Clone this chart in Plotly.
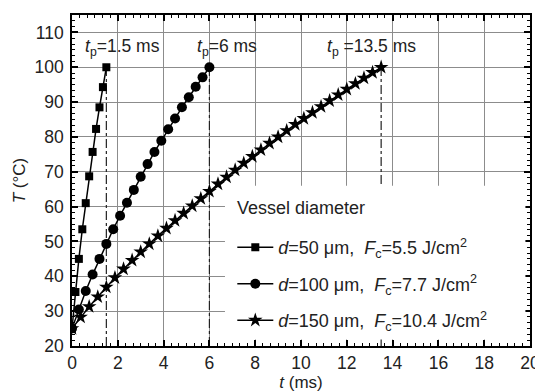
import plotly.graph_objects as go

# ---- data ----
t_50 = [0, 0.15, 0.3, 0.45, 0.6, 0.75, 0.9, 1.05, 1.2, 1.35, 1.5]
T_50 = [25, 35.5, 45, 53.5, 61, 68.7, 75.7, 82.3, 88.5, 94.3, 100]

t_100 = [0, 0.3, 0.6, 0.9, 1.2, 1.5, 1.8, 2.1, 2.4, 2.7, 3.0, 3.3, 3.6, 3.9,
         4.2, 4.5, 4.8, 5.1, 5.4, 5.7, 6.0]
T_100 = [25, 30.5, 35.8, 40.5, 45, 49.3, 53.5, 57.4, 61.1, 64.8, 68.6, 72.2,
         75.7, 78.9, 82.2, 85.3, 88.5, 91.4, 94.4, 97.1, 100]

t_150 = [0, 0.375, 0.75, 1.125, 1.5, 1.875, 2.25, 2.625, 3.0, 3.375, 3.75,
         4.125, 4.5, 4.875, 5.25, 5.625, 6.0, 6.375, 6.75, 7.125, 7.5, 7.875,
         8.25, 8.625, 9.0, 9.375, 9.75, 10.125, 10.5, 10.875, 11.25, 11.625,
         12.0, 12.375, 12.75, 13.125, 13.5]
T_150 = [25, 28.3, 31.3, 34.1, 36.9, 39.6, 42.1, 44.6, 47.0, 49.3, 51.6, 53.8,
         56.0, 58.1, 60.2, 62.3, 64.4, 66.5, 68.5, 70.5, 72.5, 74.4, 76.3,
         78.2, 80.0, 81.8, 83.6, 85.3, 87.0, 88.7, 90.4, 92.1, 93.7, 95.3,
         96.9, 98.5, 100]

tp_values = [1.5, 6, 13.5]
tp_labels = ["<i>t</i><sub>p</sub>=1.5 ms", "<i>t</i><sub>p</sub>=6 ms",
             "<i>t</i><sub>p</sub> =13.5 ms"]
T_base = 20
T_top = 100

legend_title = "Vessel diameter"
series_names = [
    "<i>d</i>=50 \u03bcm,  <i>F</i><sub>c</sub>=5.5 J/cm<sup>2</sup>",
    "<i>d</i>=100 \u03bcm,  <i>F</i><sub>c</sub>=7.7 J/cm<sup>2</sup>",
    "<i>d</i>=150 \u03bcm,  <i>F</i><sub>c</sub>=10.4 J/cm<sup>2</sup>",
]

FONT = "Liberation Sans, Arial, sans-serif"
TXT = "#222"
FS = 17.5

fig = go.Figure()

# dash-dot markers of pulse duration
for tp in tp_values:
    fig.add_trace(go.Scatter(
        x=[tp, tp], y=[T_base, T_top], mode="lines",
        line=dict(color=TXT, width=1.2, dash="dashdot"),
        showlegend=False, hoverinfo="skip"))

series = [
    (t_50, T_50, "square", 8),
    (t_100, T_100, "circle", 10),
    (t_150, T_150, "star", 11),
]
for i, ((xs, ys, sym, sz), name) in enumerate(zip(series, series_names)):
    fig.add_trace(go.Scatter(
        x=xs, y=ys, mode="lines+markers", name=name,
        legendgroup=f"g{i}",
        line=dict(color="black", width=1.5),
        marker=dict(symbol=sym, size=sz, color="black",
                    line=dict(width=0))))

label_x = [0.48, 5.37, 11.05]
for lx, lab in zip(label_x, tp_labels):
    fig.add_annotation(x=lx, y=105.6, text=lab, showarrow=False,
                       xanchor="left", yanchor="middle",
                       font=dict(family=FONT, size=FS, color=TXT))

# white panel behind the legend (hides grid and dash-dot line there)
fig.add_shape(type="rect", xref="x", yref="y", x0=6.68, x1=19.8, y0=21.9, y1=66,
              fillcolor="white", line=dict(width=0), layer="above")

fig.add_annotation(x=7.1, y=59.6, xref="x", yref="y", text=legend_title,
                   showarrow=False, xanchor="left", yanchor="middle",
                   font=dict(family=FONT, size=18, color=TXT))

axis_common = dict(
    showline=True, linecolor="black", linewidth=1.5, mirror="allticks",
    ticks="inside", ticklen=6, tickwidth=1.5, tickcolor="black",
    showgrid=True, gridcolor="#8c8c8c", gridwidth=1.3, zeroline=False,
    tickfont=dict(family=FONT, size=FS, color=TXT),
    automargin=False,
)

fig.update_xaxes(
    range=[0, 20], dtick=2, tick0=0,
    title=dict(text="<i>t</i> (ms)", font=dict(family=FONT, size=17, color=TXT),
               standoff=4),
    minor=dict(dtick=1/3, ticks="inside", ticklen=3, tickwidth=1.2,
               tickcolor="black", showgrid=False),
    **axis_common)
fig.update_yaxes(
    range=[20, 115], dtick=10, tick0=20,
    ticklabelstandoff=3,
    title=dict(text="<i>T</i> (\u00b0C)", font=dict(family=FONT, size=17, color=TXT),
               standoff=5),
    minor=dict(dtick=10/6, ticks="inside", ticklen=3, tickwidth=1.2,
               tickcolor="black", showgrid=False),
    **axis_common)

# page body has an 8px margin, so the figure is made 8px smaller on each axis
fig.update_layout(
    width=535, height=384,
    margin=dict(l=64, r=13, t=7, b=46),
    plot_bgcolor="white", paper_bgcolor="white",
    font=dict(family=FONT, size=FS, color=TXT),
    legend=dict(
        x=0.35, y=0.353, xanchor="left", yanchor="top",
        bgcolor="rgba(0,0,0,0)", borderwidth=0,
        font=dict(family=FONT, size=18, color=TXT),
        tracegroupgap=10, itemwidth=36,
    ),
)

fig.write_html("out.html")
